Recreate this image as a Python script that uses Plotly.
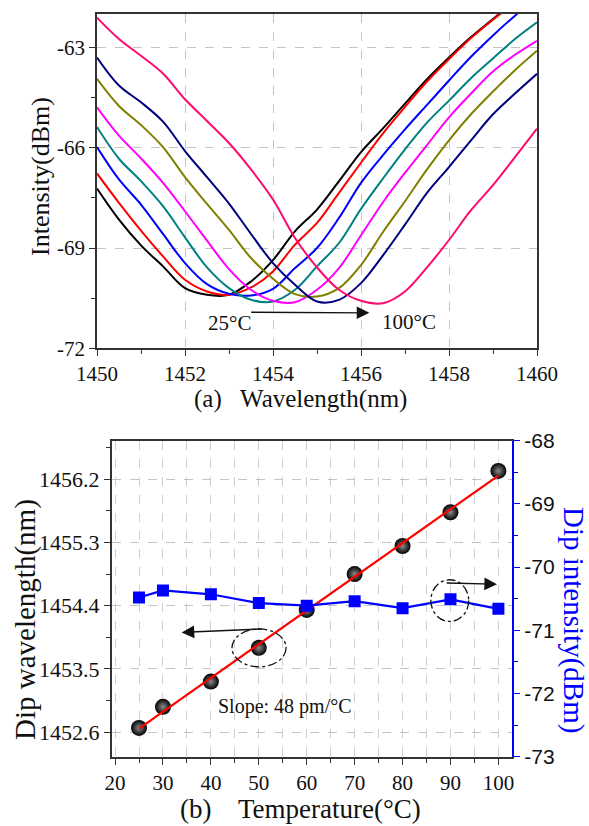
import numpy as np
import plotly.graph_objects as go

# ---------------- Panel (a) data ----------------
wavelength = [1450.0, 1450.5, 1451.0, 1451.5, 1452.0, 1452.5, 1453.0, 1453.5, 1454.0, 1454.5,
              1455.0, 1455.5, 1456.0, 1456.5, 1457.0, 1457.5, 1458.0, 1458.5, 1459.0, 1459.5, 1460.0]

int_c1 = [-67.22, -68.15, -68.92, -69.55, -70.20, -70.40, -70.40, -70.00, -69.36, -68.50,
          -67.85, -67.00, -66.13, -65.42, -64.68, -63.95, -63.30, -62.69, -62.15, -61.60, -61.05]
int_c2 = [-66.77, -67.65, -68.48, -69.25, -69.95, -70.30, -70.40, -70.18, -69.70, -68.90,
          -68.25, -67.35, -66.45, -65.57, -64.78, -64.02, -63.35, -62.72, -62.17, -61.65, -61.10]
int_c3 = [-65.98, -66.95, -67.70, -68.58, -69.45, -70.08, -70.37, -70.42, -70.22, -69.60,
          -69.00, -68.10, -67.05, -66.22, -65.45, -64.72, -63.99, -63.28, -62.64, -62.05, -61.50]
int_c4 = [-65.38, -66.33, -67.00, -67.75, -68.68, -69.58, -70.20, -70.55, -70.60, -70.25,
          -69.55, -68.85, -67.83, -66.92, -66.05, -65.25, -64.59, -63.92, -63.33, -62.75, -62.25]
int_c5 = [-64.79, -65.64, -66.32, -67.05, -67.90, -68.78, -69.63, -70.25, -70.58, -70.62,
          -70.25, -69.60, -68.62, -67.63, -66.75, -65.92, -65.09, -64.38, -63.72, -63.22, -62.80]
int_c6 = [-63.94, -64.75, -65.32, -65.98, -66.88, -67.68, -68.46, -69.30, -69.92, -70.38,
          -70.45, -70.20, -69.51, -68.52, -67.60, -66.65, -65.78, -65.00, -64.32, -63.68, -63.10]
int_c7 = [-63.30, -64.14, -64.64, -65.22, -66.10, -66.88, -67.67, -68.58, -69.45, -70.10,
          -70.60, -70.55, -70.05, -69.22, -68.30, -67.35, -66.58, -65.78, -65.00, -64.38, -63.79]
int_c8 = [-62.11, -62.75, -63.25, -63.78, -64.55, -65.20, -65.86, -66.65, -67.55, -68.70,
          -69.58, -70.25, -70.58, -70.65, -70.30, -69.58, -68.76, -67.87, -67.12, -66.28, -65.43]

spectra = [int_c1, int_c2, int_c3, int_c4, int_c5, int_c6, int_c7, int_c8]
spectra_colors = ["#000000", "#FF0000", "#0000FF", "#008080", "#FF00FF", "#808000", "#000080", "#FF0A6E"]

wl_ticks = [1450, 1452, 1454, 1456, 1458, 1460]
int_ticks = [-72, -69, -66, -63]

# ---------------- Panel (b) data ----------------
temperature = [25, 30, 40, 50, 60, 70, 80, 90, 100]
dip_wavelength = [1452.66, 1452.96, 1453.32, 1453.80, 1454.34, 1454.85, 1455.25, 1455.73, 1456.32]
dip_intensity = [-70.48, -70.37, -70.43, -70.57, -70.61, -70.54, -70.65, -70.51, -70.66]

temp_ticks = [20, 30, 40, 50, 60, 70, 80, 90, 100]
dipwl_ticks = [1452.6, 1453.5, 1454.4, 1455.3, 1456.2]
dipint_ticks = [-73, -72, -71, -70, -69, -68]

slope, intercept = np.polyfit(temperature, dip_wavelength, 1)
fit_x = [temperature[0], temperature[-1]]
fit_y = [slope * t + intercept for t in fit_x]

SERIF = "Liberation Serif, Times New Roman, serif"
SANS = "Liberation Sans, Arial, sans-serif"

def lbl(v, fmt="{:g}"):
    return fmt.format(v).replace("\u2212", "-")

fig = go.Figure()

for vals, col in zip(spectra, spectra_colors):
    fig.add_trace(go.Scatter(x=wavelength, y=vals, mode="lines",
                             line=dict(color=col, width=2, shape="spline", smoothing=1.0),
                             xaxis="x", yaxis="y", showlegend=False, hoverinfo="skip"))

fig.add_trace(go.Scatter(x=temperature, y=dip_wavelength, mode="markers",
                         marker=dict(size=16, color="#000000", symbol="circle",
                                     gradient=dict(type="radial", color="#8a8a8a"),
                                     line=dict(width=0)),
                         xaxis="x2", yaxis="y2", showlegend=False))
fig.add_trace(go.Scatter(x=fit_x, y=fit_y, mode="lines", line=dict(color="#FF0000", width=2.2),
                         xaxis="x2", yaxis="y2", showlegend=False))
fig.add_trace(go.Scatter(x=temperature, y=dip_intensity, mode="lines+markers",
                         line=dict(color="#0000FF", width=2.2),
                         marker=dict(size=12, color="#0000FF", symbol="square"),
                         xaxis="x2", yaxis="y3", showlegend=False))

W, H = 589, 826
def px_x(p):
    return p / W
def px_y(p):
    return 1 - p / H

grid_col = "#c4c4c4"
axis_col = "#333333"

common_ax = dict(showline=True, linecolor=axis_col, linewidth=1.6, ticks="outside", ticklen=6,
                 tickwidth=1.4, tickcolor=axis_col, zeroline=False, automargin=False)

fig.update_layout(
    template="none",
    width=W, height=H, margin=dict(l=0, r=0, t=0, b=0, autoexpand=False),
    paper_bgcolor="white", plot_bgcolor="white",
    font=dict(family=SERIF, color="#111111"),
    xaxis=dict(domain=[px_x(97), px_x(537)], anchor="y", range=[1450, 1460],
               tickvals=wl_ticks, ticktext=[lbl(v) for v in wl_ticks], mirror=True,
               showgrid=True, gridcolor=grid_col, griddash="dash", gridwidth=1.2,
               minor=dict(dtick=1, tick0=1450, ticks="outside", ticklen=4, tickcolor=axis_col, showgrid=False),
               tickfont=dict(size=21, family=SERIF, color="#111"),
               **common_ax),
    yaxis=dict(domain=[px_y(348.3), px_y(14)], anchor="x", range=[-72, -62],
               tickvals=int_ticks, ticktext=[lbl(v) for v in int_ticks], mirror=True,
               showgrid=True, gridcolor=grid_col, griddash="dash", gridwidth=1.2,
               minor=dict(dtick=1.5, tick0=-72, ticks="outside", ticklen=4, tickcolor=axis_col, showgrid=False),
               tickfont=dict(size=21, family=SERIF, color="#111"),
               **common_ax),
    xaxis2=dict(domain=[px_x(111.7), px_x(512.3)], anchor="y2", range=[19.3, 102.9],
                tickvals=temp_ticks, ticktext=[lbl(v) for v in temp_ticks], mirror=True,
                showgrid=False,
                minor=dict(dtick=5, tick0=20, ticks="outside", ticklen=4, tickcolor=axis_col,
                           showgrid=True, gridcolor="#cfcfcf", griddash="dash", gridwidth=1),
                tickfont=dict(size=21, family=SERIF, color="#111"),
                **common_ax),
    yaxis2=dict(domain=[px_y(756.7), px_y(440.7)], anchor="x2", range=[1452.25, 1456.75],
                tickvals=dipwl_ticks, ticktext=[lbl(v, "{:.1f}") for v in dipwl_ticks],
                showgrid=True, gridcolor=grid_col, griddash="dash", gridwidth=1.2,
                minor=dict(dtick=0.45, tick0=1452.6, ticks="outside", ticklen=4, tickcolor=axis_col, showgrid=False),
                tickfont=dict(size=22, family=SERIF, color="#111"),
                **common_ax),
    yaxis3=dict(overlaying="y2", side="right", anchor="x2", range=[-73, -68],
                tickvals=dipint_ticks, ticktext=[lbl(v) for v in dipint_ticks],
                showgrid=False, zeroline=False, automargin=False,
                showline=True, linecolor="#0000FF", linewidth=1.6, ticks="outside", ticklen=6, tickwidth=1.4,
                tickcolor="#0000FF",
                minor=dict(dtick=0.5, tick0=-73, ticks="outside", ticklen=4, tickcolor="#0000FF"),
                tickfont=dict(size=21, family=SANS, color="#111")),
)

def title(text, x, y, size, angle=0, color="#111"):
    fig.add_annotation(text=text, xref="paper", yref="paper", x=px_x(x), y=px_y(y),
                       xanchor="center", yanchor="middle", showarrow=False, textangle=angle,
                       font=dict(size=size, family=SERIF, color=color))

# axis titles
title("(a)\u00a0\u00a0 Wavelength(nm)", 300, 399, 25)
title("Intensity(dBm)", 40, 177, 26, angle=-90)
title("(b)\u00a0\u00a0\u00a0 Temperature(°C)", 300, 809, 27)
title("Dip wavelength(nm)", 25, 620, 29, angle=-90)
title("Dip intensity(dBm)", 574, 620, 29, angle=90, color="#0000FF")

ARROW = dict(text="", showarrow=True, arrowhead=2, arrowsize=1.8, arrowwidth=1.4, arrowcolor="#111")

# panel (a) annotations
fig.add_annotation(text="25°C", xref="x", yref="y", x=1453.0, y=-71.25, showarrow=False,
                   font=dict(size=21, family=SERIF, color="#111"))
fig.add_annotation(text="100°C", xref="x", yref="y", x=1457.1, y=-71.2, showarrow=False,
                   font=dict(size=21, family=SERIF, color="#111"))
fig.add_annotation(x=1456.19, y=-70.94, ax=1453.47, ay=-70.92, xref="x", yref="y", axref="x", ayref="y", **ARROW)

# panel (b) annotations
fig.add_annotation(text="Slope: 48 pm/°C", xref="x2", yref="y2", x=55.5, y=1452.96, showarrow=False,
                   font=dict(size=20, family=SERIF, color="#111"))
fig.add_shape(type="circle", xref="x2", yref="y2", x0=44.4, x1=55.7, y0=1453.53, y1=1454.07,
              line=dict(color="#111", width=1.3, dash="dashdot"))
fig.add_annotation(x=33.9, y=1454.02, ax=50.9, ay=1454.07, xref="x2", yref="y2", axref="x2", ayref="y2", **ARROW)
fig.add_shape(type="circle", xref="x2", yref="y3", x0=85.9, x1=93.8, y0=-70.86, y1=-70.2,
              line=dict(color="#111", width=1.3, dash="dashdot"))
fig.add_annotation(x=99.7, y=-70.27, ax=88.9, ay=-70.25, xref="x2", yref="y3", axref="x2", ayref="y3", **ARROW)

fig.write_html("out.html", config={"displayModeBar": False},
               post_script="document.body.style.margin='0';document.body.style.overflow='hidden';")
